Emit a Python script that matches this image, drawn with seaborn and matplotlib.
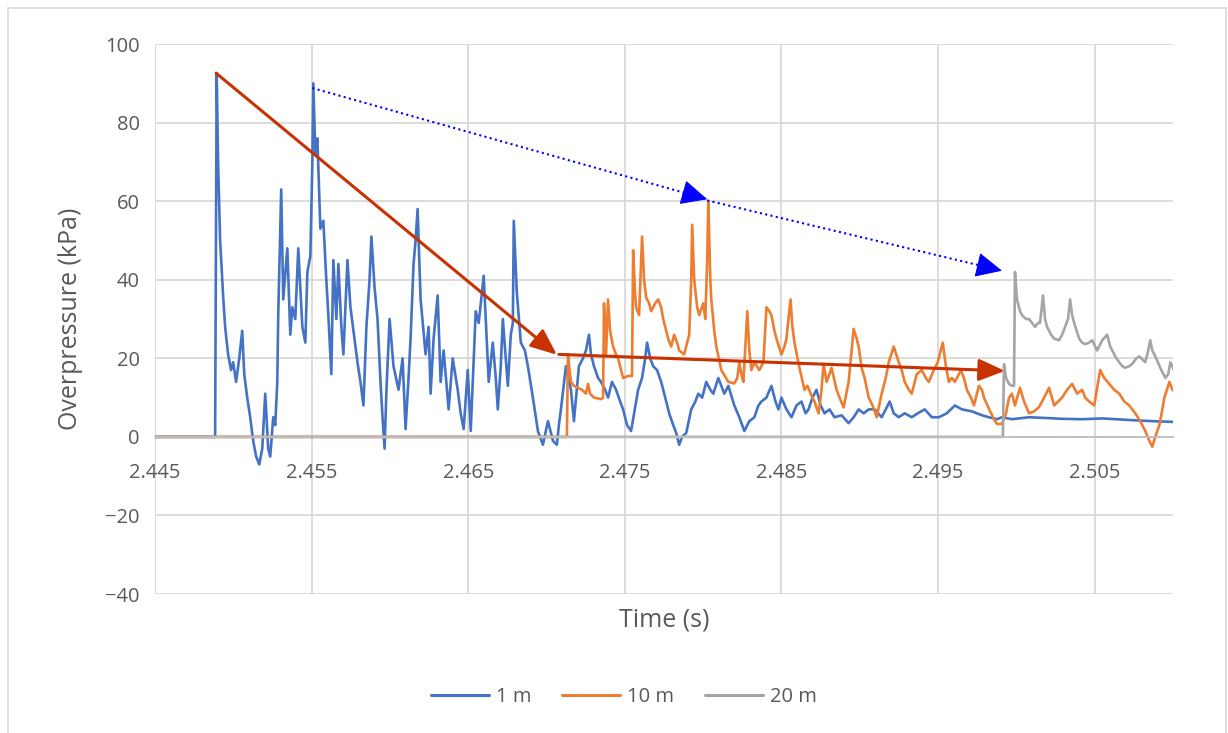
import numpy as np
import pandas as pd
import seaborn as sns
import matplotlib
matplotlib.use('Agg')
import matplotlib.pyplot as plt
from matplotlib.patches import Rectangle

# values (time in s, overpressure in kPa)
blue_t = [2.445, 2.44884, 2.44894, 2.44903, 2.44916, 2.44935, 2.44948, 2.44967, 2.44986, 2.44999,
          2.45018, 2.45038, 2.45057, 2.45070, 2.45089, 2.45108, 2.45127, 2.45146, 2.45166, 2.45185,
          2.45204, 2.45223, 2.45236, 2.45255, 2.45268, 2.45281, 2.45287, 2.45306, 2.45319, 2.45345,
          2.45364, 2.45377, 2.45396, 2.45415, 2.45428, 2.45441, 2.45460, 2.45473, 2.45492, 2.45505,
          2.45511, 2.45524, 2.45537, 2.45556, 2.45575, 2.45594, 2.45607, 2.45626, 2.45639, 2.45658,
          2.45671, 2.45690, 2.45703, 2.45729, 2.45748, 2.45767, 2.45793, 2.45812, 2.45831, 2.45850,
          2.45870, 2.45882, 2.45902, 2.45921, 2.45940, 2.45953, 2.45966, 2.45978, 2.45998, 2.46023,
          2.46055, 2.46081, 2.46100, 2.46119, 2.46132, 2.46151, 2.46164, 2.46177, 2.46196, 2.46228,
          2.46247, 2.46260, 2.46279, 2.46305, 2.46324, 2.46343, 2.46375, 2.46401, 2.46433, 2.46452,
          2.46471, 2.46497, 2.46516, 2.46535, 2.46548, 2.46567, 2.46586, 2.46599, 2.46618, 2.46631,
          2.46657, 2.46676, 2.46689, 2.46708, 2.46721, 2.46740, 2.46753, 2.46772, 2.46785, 2.46791,
          2.46810, 2.46836, 2.46862, 2.46881, 2.46913, 2.46932, 2.46945, 2.46977, 2.47009, 2.47041,
          2.47066, 2.47079, 2.47092, 2.47124, 2.47156, 2.47175, 2.47207, 2.47233, 2.47252, 2.47271,
          2.47284, 2.47303, 2.47329, 2.47348, 2.47374, 2.47393, 2.47418, 2.47444, 2.47470, 2.47489,
          2.47514, 2.47540, 2.47559, 2.47585, 2.47610, 2.47630, 2.47642, 2.47662, 2.47681, 2.47706,
          2.47732, 2.47758, 2.47783, 2.47809, 2.47828, 2.47847, 2.47866, 2.47892, 2.47924, 2.47950,
          2.47969, 2.47994, 2.48020, 2.48046, 2.48065, 2.48097, 2.48135, 2.48161, 2.48199, 2.48231,
          2.48263, 2.48295, 2.48327, 2.48353, 2.48372, 2.48404, 2.48436, 2.48462, 2.48481, 2.48500,
          2.48532, 2.48564, 2.48596, 2.48628, 2.48654, 2.48673, 2.48698, 2.48724, 2.48750, 2.48775,
          2.48807, 2.48839, 2.48884, 2.48929, 2.48961, 2.48993, 2.49025, 2.49057, 2.49095, 2.49140,
          2.49166, 2.49191, 2.49217, 2.49249, 2.49287, 2.49332, 2.49370, 2.49415, 2.49460, 2.49505,
          2.49556, 2.49607, 2.49652, 2.49716, 2.49780, 2.49825, 2.49876, 2.49908, 2.49972, 2.50081,
          2.50196, 2.50292, 2.50420, 2.50548, 2.50721, 2.50868, 2.51015]
blue_p = [0, 0, 92.6, 70, 50, 36, 28, 21, 17, 19,
          14, 20, 27, 16, 10, 5, -1, -5, -7, -3,
          11, -3, -5, 5, 3, 14, 31, 63, 35, 48,
          26, 33, 30, 48, 38, 28, 24, 42, 46, 70,
          90, 72, 76, 53, 55, 40, 31, 16, 45, 30,
          44, 28, 21, 45, 33, 27, 19, 14, 8, 28,
          40, 51, 38, 30, 14, 5, -3, 12, 30, 18,
          12, 20, 2, 15, 25, 44, 50, 58, 35, 21,
          28, 11, 25, 36, 14, 22, 7, 20, 12, 6,
          2, 17, 1.5, 20, 32, 29, 36, 41, 25, 14,
          24, 15, 7, 18, 30, 20, 13, 26, 29, 55,
          37, 24, 22, 18, 10, 5, 1.5, -2, 4, -1,
          -2, 3, 7, 18, 12, 4, 18, 20, 22, 26,
          21, 18, 15, 14, 12, 10, 14, 12, 9, 7,
          3, 1.5, 6, 12, 15, 20, 24, 20, 18, 17,
          14, 10, 6, 3, 1, -2, 0, 1, 7, 9,
          11, 10, 14, 12, 11, 15, 11, 13, 8, 5,
          1.5, 4, 5, 8, 9, 10, 13, 9, 7, 10,
          7, 5, 8, 9, 6, 7, 10, 12, 8, 6,
          7, 5, 5.5, 3.5, 5, 7, 6, 7, 7, 5,
          7, 9, 6, 5, 6, 5, 6, 7, 5, 5,
          6, 8, 7, 6.5, 5.5, 5, 4.5, 5, 4.5, 5,
          4.8, 4.6, 4.5, 4.7, 4.3, 4, 3.8]

orange_t = [2.445, 2.47130, 2.47137, 2.47150, 2.47156, 2.47175, 2.47201, 2.47226, 2.47252, 2.47265,
            2.47278, 2.47303, 2.47329, 2.47348, 2.47361, 2.47367, 2.47380, 2.47393, 2.47406, 2.47425,
            2.47444, 2.47457, 2.47476, 2.47489, 2.47521, 2.47546, 2.47553, 2.47566, 2.47572, 2.47591,
            2.47610, 2.47623, 2.47636, 2.47655, 2.47668, 2.47694, 2.47713, 2.47732, 2.47745, 2.47764,
            2.47777, 2.47796, 2.47815, 2.47834, 2.47847, 2.47879, 2.47898, 2.47911, 2.47924, 2.47930,
            2.47943, 2.47962, 2.47975, 2.48001, 2.48014, 2.48026, 2.48033, 2.48046, 2.48052, 2.48071,
            2.48084, 2.48116, 2.48161, 2.48199, 2.48218, 2.48231, 2.48244, 2.48257, 2.48282, 2.48295,
            2.48308, 2.48327, 2.48359, 2.48385, 2.48404, 2.48423, 2.48436, 2.48455, 2.48468, 2.48500,
            2.48519, 2.48532, 2.48558, 2.48570, 2.48583, 2.48615, 2.48647, 2.48666, 2.48692, 2.48711,
            2.48737, 2.48756, 2.48769, 2.48788, 2.48807, 2.48820, 2.48852, 2.48871, 2.48897, 2.48929,
            2.48948, 2.48961, 2.48980, 2.48993, 2.49012, 2.49031, 2.49057, 2.49082, 2.49108, 2.49140,
            2.49166, 2.49185, 2.49217, 2.49249, 2.49268, 2.49287, 2.49313, 2.49332, 2.49364, 2.49396,
            2.49422, 2.49441, 2.49473, 2.49498, 2.49530, 2.49550, 2.49569, 2.49588, 2.49607, 2.49646,
            2.49665, 2.49684, 2.49710, 2.49729, 2.49761, 2.49780, 2.49793, 2.49831, 2.49857, 2.49876,
            2.49908, 2.49934, 2.49953, 2.49972, 2.49991, 2.50023, 2.50049, 2.50081, 2.50113, 2.50145,
            2.50177, 2.50209, 2.50241, 2.50266, 2.50292, 2.50324, 2.50356, 2.50388, 2.50420, 2.50439,
            2.50465, 2.50497, 2.50522, 2.50535, 2.50561, 2.50593, 2.50625, 2.50657, 2.50689, 2.50721,
            2.50759, 2.50791, 2.50823, 2.50849, 2.50868, 2.50887, 2.50913, 2.50932, 2.50945, 2.50977,
            2.50996, 2.51015]
orange_p = [0, 0, 21, 16, 14, 13, 12.5, 12, 11, 13.5,
            11, 10, 9.8, 9.6, 10, 34, 21, 35, 27, 23,
            21, 20, 17, 15, 15.5, 15.5, 47.5, 36, 33, 31,
            51, 40, 35.5, 34, 32, 34, 35, 33, 30, 27,
            25, 23, 26, 24, 22, 21, 24, 26, 40, 54,
            40, 33, 31, 34, 30, 45, 60, 40, 35, 27,
            23, 17, 14, 13.6, 15, 19, 16, 14, 32, 22,
            17, 19, 17, 19, 33, 32, 31, 27, 25, 21,
            23, 25, 35, 28, 24, 17.6, 12, 13, 10.5, 9,
            6, 12, 18.6, 14, 16, 17.6, 12, 10, 7.5, 14,
            22, 27.5, 25, 23, 17.6, 15, 10, 8, 5, 11,
            15, 19, 23, 19, 17, 14, 12, 11, 16, 17,
            15, 14, 17, 19, 24, 18, 14, 15, 14, 17,
            15, 12, 10, 8, 13, 12, 10, 6.6, 4.5, 3.3,
            3.3, 6, 10, 11, 8, 12.5, 9, 6, 6.5, 7.6,
            10, 12.5, 8, 9, 10, 12, 13.5, 11, 12, 10,
            9, 8, 14, 17, 15, 13.5, 12, 11, 9, 8,
            6, 4, 1.5, -1, -2.5, 0, 3, 7, 10, 14,
            12, 11.5]

gray_t = [2.445, 2.49914, 2.49921, 2.49934, 2.49953, 2.49972, 2.49985, 2.49991, 2.50004, 2.50023,
          2.50036, 2.50062, 2.50081, 2.50100, 2.50119, 2.50138, 2.50151, 2.50170, 2.50183, 2.50196,
          2.50222, 2.50241, 2.50273, 2.50292, 2.50311, 2.50330, 2.50343, 2.50356, 2.50369, 2.50401,
          2.50420, 2.50439, 2.50465, 2.50484, 2.50516, 2.50548, 2.50580, 2.50599, 2.50612, 2.50638,
          2.50657, 2.50676, 2.50695, 2.50721, 2.50740, 2.50766, 2.50785, 2.50810, 2.50823, 2.50842,
          2.50855, 2.50868, 2.50887, 2.50919, 2.50951, 2.50970, 2.50983, 2.50996, 2.51015]
gray_p = [0, 0, 18.5, 15, 13.5, 13, 13, 42, 35, 32,
          31, 30, 30, 29, 28, 29, 29, 36, 30, 28,
          26, 25, 24.6, 26, 28, 30, 35, 31, 29, 25,
          24, 23.6, 24, 24.6, 22, 24.6, 26, 23, 22, 20,
          19, 18, 17.6, 18, 18.6, 20, 20.5, 19.5, 19, 22,
          24.6, 22, 20.5, 17.6, 15, 16, 19, 18, 16]

series_names = ['1 m', '10 m', '20 m']
colors = ['#4472C4', '#ED7D31', '#A5A5A5']

# annotation arrows (tail -> tip)
red_arrows = [((2.44890, 92.6), (2.47066, 20.9)), ((2.47079, 21.0), (2.49927, 16.8))]
blue_arrows = [((2.45505, 88.8), (2.48026, 60.5)), ((2.48026, 60.2), (2.49908, 42.3))]

x_ticks = [2.445, 2.455, 2.465, 2.475, 2.485, 2.495, 2.505]
y_ticks = [-40, -20, 0, 20, 40, 60, 80, 100]

df = pd.concat([
    pd.DataFrame({'time': blue_t, 'pressure': blue_p, 'series': '1 m'}),
    pd.DataFrame({'time': orange_t, 'pressure': orange_p, 'series': '10 m'}),
    pd.DataFrame({'time': gray_t, 'pressure': gray_p, 'series': '20 m'}),
], ignore_index=True)

sns.set_style('white')
plt.rcParams['font.family'] = ['Open Sans', 'DejaVu Sans']
txt = '#595959'

fig = plt.figure(figsize=(12.28, 7.33), dpi=100)
ax = fig.add_axes([0.1262, 0.1896, 0.829, 0.7503])

sns.lineplot(data=df, x='time', y='pressure', hue='series', hue_order=series_names,
             palette=colors, estimator=None, sort=False, linewidth=1.9, ax=ax, legend=False)

ax.set_xlim(2.445, 2.51)
ax.set_ylim(-40, 100)
ax.set_xticks(x_ticks)
ax.set_xticklabels([f'{v:.3f}' for v in x_ticks])
ax.set_yticks(y_ticks)
ax.grid(True, color='#D9D9D9', linewidth=1.3)
ax.set_axisbelow(True)
for s in ['top', 'right', 'left']:
    ax.spines[s].set_visible(False)
ax.spines['bottom'].set_position(('data', 0))
ax.spines['bottom'].set_color('#BFBFBF')
ax.spines['bottom'].set_linewidth(1.3)
ax.tick_params(axis='both', length=0, labelsize=14.5, labelcolor=txt)
ax.tick_params(axis='x', pad=19)
ax.tick_params(axis='y', pad=11)

ax.set_xlabel('')
ax.set_ylabel('Overpressure (kPa)', fontsize=18, color=txt, labelpad=16)
ax.text(0.5, -0.047, 'Time (s)', transform=ax.transAxes, ha='center', va='center',
        fontsize=18, color=txt)

red = '#C83200'
for tail, tip in red_arrows:
    ax.annotate('', xy=tip, xytext=tail,
                arrowprops=dict(arrowstyle='-|>,head_length=1.0,head_width=0.42', color=red,
                                lw=2.2, mutation_scale=16, shrinkA=0, shrinkB=0))

# blue: dotted shaft plus a solid head
for tail, tip in blue_arrows:
    ax.plot([tail[0], tip[0]], [tail[1], tip[1]], color='#0000FF', lw=1.5,
            linestyle=(0, (1, 1.6)), solid_capstyle='butt')
    back = (tip[0] - 0.03 * (tip[0] - tail[0]), tip[1] - 0.03 * (tip[1] - tail[1]))
    ax.annotate('', xy=tip, xytext=back,
                arrowprops=dict(arrowstyle='-|>,head_length=1.05,head_width=0.5', color='#0000FF',
                                lw=0.8, mutation_scale=16, shrinkA=0, shrinkB=0))

handles = [plt.Line2D([0], [0], color=c, lw=2.2) for c in colors]
fig.legend(handles, series_names, loc='center', bbox_to_anchor=(0.508, 0.049), ncol=3,
           frameon=False, fontsize=14.5, labelcolor=txt, handlelength=2.9,
           handletextpad=0.35, columnspacing=1.5)

fig.patches.append(Rectangle((8 / 1228, -0.01), (1226 - 8) / 1228, 1.01 - 8 / 733,
                             transform=fig.transFigure, fill=False, edgecolor='#D9D9D9', lw=1.2))

fig.savefig('out.png', dpi=100)
